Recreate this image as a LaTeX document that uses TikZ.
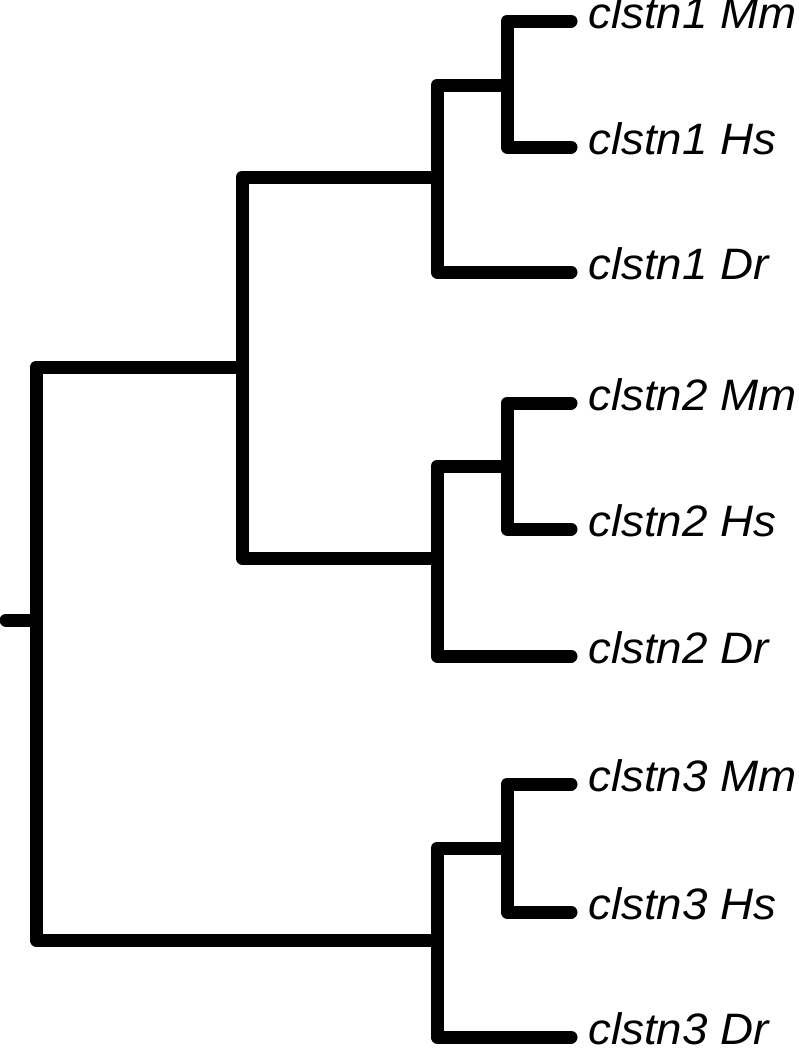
\documentclass[tikz,border=0pt]{standalone}
\usepackage{fontspec}
\setmainfont{Liberation Sans}[FakeStretch=1.04]
\begin{document}
\begin{tikzpicture}[x=1pt,y=-1pt,
  branch/.style={line width=13pt,line cap=round,line join=round,black},
  leaf/.style={anchor=west,inner xsep=17pt,inner ysep=0pt,text height=14pt,text depth=0pt,
    font=\fontsize{44}{53}\selectfont\itshape}]
\useasboundingbox (0,0) rectangle (799,1050);
% internal nodes
\coordinate (r0) at (6,620);
\coordinate (r) at (36,620);
\coordinate (n1) at (242,367);
\coordinate (a1) at (437,177);
\coordinate (b1) at (507,85);
\coordinate (a2) at (437,558);
\coordinate (b2) at (507,466);
\coordinate (a3) at (437,940);
\coordinate (b3) at (507,848);
% leaves
\node[leaf] (L1) at (571,21) {clstn1 Mm};
\node[leaf] (L2) at (571,147) {clstn1 Hs};
\node[leaf] (L3) at (571,272) {clstn1 Dr};
\node[leaf] (L4) at (571,403) {clstn2 Mm};
\node[leaf] (L5) at (571,529) {clstn2 Hs};
\node[leaf] (L6) at (571,656) {clstn2 Dr};
\node[leaf] (L7) at (571,784) {clstn3 Mm};
\node[leaf] (L8) at (571,912) {clstn3 Hs};
\node[leaf] (L9) at (571,1037) {clstn3 Dr};
% edges
\draw[branch] (r0) -- (r);
\draw[branch] (r) |- (n1);
\draw[branch] (r) |- (a3);
\draw[branch] (n1) |- (a1);
\draw[branch] (n1) |- (a2);
\draw[branch] (a1) |- (b1);
\draw[branch] (a1) |- (L3.west);
\draw[branch] (b1) |- (L1.west);
\draw[branch] (b1) |- (L2.west);
\draw[branch] (a2) |- (b2);
\draw[branch] (a2) |- (L6.west);
\draw[branch] (b2) |- (L4.west);
\draw[branch] (b2) |- (L5.west);
\draw[branch] (a3) |- (b3);
\draw[branch] (a3) |- (L9.west);
\draw[branch] (b3) |- (L7.west);
\draw[branch] (b3) |- (L8.west);
\end{tikzpicture}
\end{document}
